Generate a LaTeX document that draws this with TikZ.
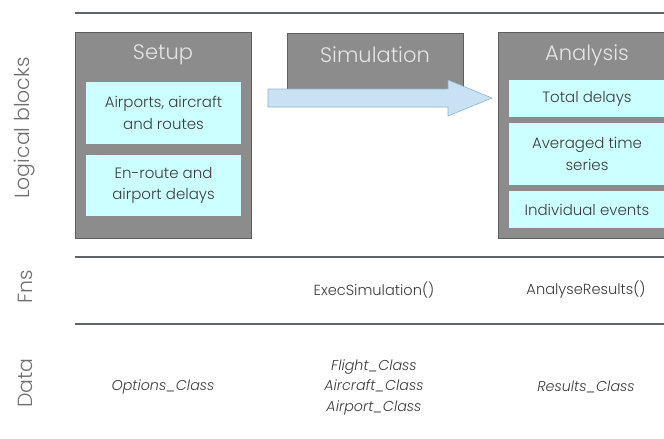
\documentclass[tikz,border=0pt]{standalone}
\usepackage{fontspec}
\setmainfont{Poppins}[UprightFont={* Light}, ItalicFont={* Light Italic}]
\usepackage{tikz}
\usetikzlibrary{positioning,calc}
\definecolor{blkgrey}{HTML}{8C8C8C}
\definecolor{blkedge}{HTML}{5E5E5E}
\definecolor{subfill}{HTML}{CCFFFF}
\definecolor{arrfill}{HTML}{C8E2F4}
\definecolor{arredge}{HTML}{90B2CC}
\definecolor{rulegrey}{HTML}{60646A}
\definecolor{txtgrey}{HTML}{3C3C3C}
\definecolor{rowgrey}{HTML}{707070}

\begin{document}
\begin{tikzpicture}[
    x=1pt, y=-1pt,
    blk/.style={fill=blkgrey, draw=blkedge, line width=0.8pt, inner sep=0pt},
    sub/.style={fill=subfill, inner sep=0pt, align=center, font=\fontsize{15}{21.5}\selectfont, text=txtgrey},
    ttl/.style={font=\fontsize{21}{24}\selectfont, text=white!90!black},
    rowlbl/.style={font=\fontsize{20.5}{24}\selectfont, text=rowgrey, rotate=90},
    fn/.style={font=\fontsize{14.6}{18}\selectfont, text=txtgrey},
    cls/.style={font=\fontsize{14.3}{20.5}\selectfont\itshape, text=txtgrey, align=center},
    sep/.style={draw=rulegrey, line width=1.5pt},
]
\useasboundingbox (0,0) rectangle (664,439);
\clip (0,0) rectangle (664,439);
% rules between the rows
\coordinate (r1a) at (75,13);  \coordinate (r1b) at (670,13);
\coordinate (r2a) at (75,257); \coordinate (r2b) at (670,257);
\coordinate (r3a) at (75,324); \coordinate (r3b) at (670,324);
\draw[sep] (r1a) -- (r1b);
\draw[sep] (r2a) -- (r2b);
\draw[sep] (r3a) -- (r3b);
% row labels
\node[rowlbl] (lblocks) at (25,128) {Logical blocks};
\node[rowlbl] (lfns) at (25,287) {Fns};
\node[rowlbl] (ldata) at (25,383) {Data};
% logical blocks
\node[blk, minimum width=176pt, minimum height=206pt] (setup) at (163,135) {};
\node[blk, minimum width=176pt, minimum height=56pt] (sim) at (375,61) {};
\node[blk, minimum width=178pt, minimum height=206pt] (ana) at (587,135) {};
\node[ttl] (setupt) at (163,55) {Setup};
\node[ttl] (simt) at (375,55) {Simulation};
\node[ttl] (anat) at (587,55) {Analysis};
% setup contents
\node[sub, minimum width=155pt, minimum height=62pt] (airp) at (163.5,113) {Airports, aircraft\\and routes};
\node[sub, minimum width=155pt, minimum height=61pt] (dly) at (163.5,185.5) {En-route and\\airport delays};
% analysis contents
\node[sub, minimum width=156pt, minimum height=37pt] (tot) at (587,98.5) {Total delays};
\node[sub, minimum width=156pt, minimum height=62pt] (avg) at (587,154) {Averaged time\\series};
\node[sub, minimum width=156pt, minimum height=37pt] (ind) at (587,209.5) {Individual events};
% flow arrow
\draw[fill=arrfill, draw=arredge, line width=0.6pt]
  (268,89) -- (448,89) -- (448,80) -- (492,98) -- (448,116) -- (448,107) -- (268,107) -- cycle;
% functions
\node[fn] (exec) at (374,290) {ExecSimulation()};
\node[fn] (anres) at (586,290) {AnalyseResults()};
% data classes
\node[cls] (opts) at (163,387) {Options\_Class};
\node[cls] (simcls) at (374,387) {Flight\_Class\\Aircraft\_Class\\Airport\_Class};
\node[cls] (rescls) at (586,387) {Results\_Class};
\end{tikzpicture}
\end{document}
